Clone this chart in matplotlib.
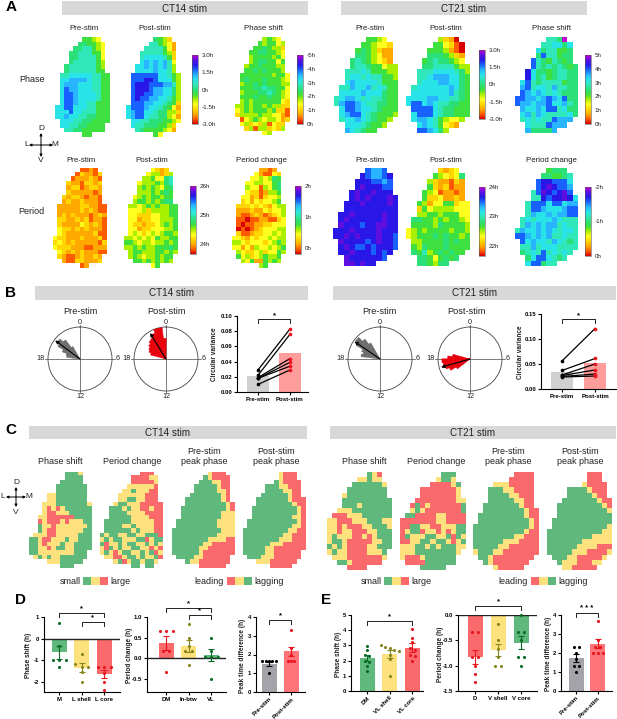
import numpy as np
import matplotlib
matplotlib.use('Agg')
import matplotlib.pyplot as plt
from matplotlib.colors import LinearSegmentedColormap, Normalize, ListedColormap
from matplotlib.colorbar import ColorbarBase
from matplotlib.patches import Rectangle

plt.rcParams['font.family'] = ['Liberation Sans', 'DejaVu Sans']

W, H = 617, 719

# Heat map levels, one hex digit per cell: 0 red ... e magenta, '.' outside the slice
ct14_phase_pre = ["......6654..", ".....776654.", "....7788654.", "...77888664.", "...77888864.", "...78888865.",
                  "..788888865.", "..788888866.", ".88999998866", ".99aaaa98866", ".9aaa9998866", ".9baa9998866",
                  ".9bba9999866", ".9bba9999866", ".9bba9988666", "99bb99988666", "999b99888666", "99a998877666",
                  ".99988776666", ".9988776666.", "..887766666.", "......66...."]
ct14_phase_post = ["......7653..", ".....886542.", "....8888642.", "...88888653.", "...89999863.", "...9a9a9a84.",
                   "..99a9a9a85.", "..9999a9985.", ".bbbbbb99865", ".bbbccb99965", ".bcccbbbaa85", ".bcccbaa9975",
                   ".bccbbaa9975", ".bcbbaa99865", ".bbbaa998763", "9bbba9987642", "9abb99877553", "9abb98877542",
                   ".99887776654", ".9887776653.", "..876666542.", "......64...."]
ct14_phase_shift = ["......5654..", ".....656645.", "....6676553.", "...66776654.", "...56666564.", "...56776646.",
                    "..566766655.", "..667676665.", ".66666665664", ".67666766654", ".56676766655", ".66677877664",
                    ".56667787654", ".66676676654", ".56566666643", "556566565533", "456566656331", "355556554421",
                    ".14565455423", ".4534351433.", "..351553435.", "......45...."]
ct14_period_pre = ["......1121..", ".....132213.", "....1222321.", "...32213323.", "...23312332.", "...32222212.",
                   "..323321221.", "..232232221.", ".22222332211", ".22222323211", ".23232221232", ".33223231221",
                   ".32222432321", ".43323232221", ".43222222311", "433222322231", "343232222213", "433322211222",
                   ".43232322211", ".3211232232.", "..211332223.", "......12...."]
ct14_period_post = ["......4323..", ".....455235.", "....5564478.", "...45556578.", "...56565467.", "...55565676.",
                    "..456566566.", "..566565677.", ".55456565566", ".44453555566", ".44333445566", ".44233445556",
                    ".43323345656", ".44233444556", ".45434545665", "554545465566", "665455455656", "556565566676",
                    ".56655566565", ".5654556566.", "..665656565.", "......46...."]
ct14_period_change = ["......2212..", ".....421143.", "....4454576.", "...44554467.", "...54415467.", "...43312556.",
                      "..442313445.", "..342434456.", ".33343432455", ".22232243445", ".21123212345", ".11011221134",
                      ".10112233444", ".01012344455", ".31123344545", "443243445455", "554344434565", "442425445456",
                      ".54334534465", ".6453456556.", "..546226565.", "......56...."]

ct21_phase_pre = ["......6654..", ".....665443.", "....6765322.", "....7765422.", "...78765432.", "...788766455",
                  "..8889866655", "..8998988665", "..9a99998666", ".88a99a89866", ".9999a999766", "89aa98988766",
                  "8abba9887766", ".9bba9987666", ".9abb9876665", ".899a987665.", "..99987665..", "..a98766...."]
ct21_phase_post = ["......5320..", ".....664310.", "....6665210.", "....7776532.", "...67877654.", "...778888655",
                   "..8889999875", "..889aaa9976", "..8999aa9976", ".8999999a976", ".9999999a876", "9999aa998876",
                   "9bb9a9887766", ".bbbb9877666", ".9bbb9877666", ".9aa9865445.", "..9a986432..", "..bba975...."]
ct21_phase_shift = ["......887e..", ".....889979.", "....9788667.", "....7b88677.", "...b8768767.", "...b87878767",
                    "..c977678877", "..c978678877", ".9b878888677", ".ab8998a8877", ".ba9a9898777", "bbaa9aba9b77",
                    "baa9aab99a87", ".a99a9bb8977", ".9a8a9888897", ".898988baaa.", "..9888baaa..", "..a7777a...."]
ct21_period_pre = ["......baab..", ".....cbaabc.", "....cccbbab.", "....cdcccbb.", "...cdccdccc.", "...cdcdcccdc",
                   "..cccdccccdc", "..cccccccccc", ".ccdcccccdcc", ".cdccccccdcc", ".dcccbccddcc", "cccdccccdccc",
                   "ccdcdcccdccb", ".dccccbcdccb", ".cdcbbcbcccb", ".ccdcccbcbc.", "..dccccccb..", "..ddcdcc...."]
ct21_period_post = ["......3234..", ".....654347.", "....5322132.", "....6323122.", "...65412212.", "...63342232.",
                    "..6524466344", "..3645555444", "..5566566644", ".77665656654", ".66665766665", "456566665665",
                    "456667676656", ".55666676766", ".65766676666", ".7685676766.", "..77646767..", "..776577...."]
ct21_period_change = ["......6777..", ".....776678.", "....bccbbb9.", "....bcdcbba.", "...8bdcbcdb.", "...88cbccdc9",
                      "..8bbb9bb9aa", "..8bba999abb", "..8a99a9aabb", ".898999a9888", ".8a9a9aa8988", "8a99a9a98998",
                      "bba9a9a88988", ".b9a998a9878", ".88a89998888", ".7898b89898.", "..79bb9878..", "..9bb788...."]

# Cluster maps: G small/lagging, Y middle, R large/leading
c14_shift = ["........GGGY..", "........GGGG..", ".......GGGGG..", "......GGGGGGG.", "......GGGGGGG.", "....YYGGGGGGG.",
             "....YYGGGGGGG.", "...YYYGGGGGGGY", "...YRYRYGGGGGG", "...YRRYYYGGGGG", "..YYRRRRRRGGGG", "..RYRRRYRYYYGG",
             "..GYYRYYYYYYYG", "..GYRRYYYYYYGG", ".YYYRRYYYYYGGG", "GGYRRYYYGYYGGG", "GGYRYYYGYYGGGG", "GGYYRYGGYYGGGG",
             "GGYYYYYYYYGGG.", ".YGYGYYGGGGGG.", "....YYYGGGGG..", ".......GGG...."]
c14_period = [".........RRR..", ".......RRRRYY.", ".......RRRRRY.", "......YYYYYYR.", ".....YYGYYYRR.", "....YYYYYYRRR.",
              "....YYGGYYRRR.", "...YGGYYYRRRRR", "..GGGYGYYRRYRR", "..GGGGYYYYRRRR", "..GGGGGYYYYRRR", ".GGGGGGYYYYYRR",
              ".GGGGYYGYYYYRR", ".GGGGGGYGYYYRR", "GYGGYYGGYYGGGR", "YGYGGYYYGGRYGG", "GRYYGYGGYYGYGY", "YRGYGYYGGYYRYR",
              "YGYRYGGYYGYGRY", ".YYRRYGGYGYYGR", "...YGRYGGYGGY.", ".......GG.GG.."]
c14_pre_peak = ["........YRRR..", ".......GYRRRR.", "......GGGYYRR.", ".....GGGGGYRR.", ".....GGGGGYYR.", "....GGGGGGGYR.",
                "...GGGGGGGGYR.", "...GGGGGGGGGYR", "..GGGGGGGGGGYR", "..GGGGGGGGGYYY", "..GGGGGGGGGYYY", ".GGGGGGGGGYYYY",
                ".GGGGGGGGGYYYY", "GGGGGGGGGGGYYY", "GGGGGGGGGGYYYY", "GGGGGGGGYYYYRR", "GGGGGGGYYRRRRR", "GGGGGGYYRRRRRR",
                "GGGGGGYRRRRRRR", ".GGGGYYRRRRRR.", "...GYYRRRRRRR.", "......RRRRRR.."]
c14_post_peak = ["........YRRR..", "........YRRR..", ".......GYRRRR.", ".....GGGYYRRR.", ".....GGGGYYRR.", "....GGGGGGYRR.",
                 "...GGGGGGGYRRR", "...GGGGGGGGYRR", "..GGGGGGGGGGYR", "..GGGGGGGGGGYR", "..GGGGGGGGGYYR", ".GGGGGGGGGGGYR",
                 ".GGGGGGGGGGYYR", "GGGGGGGGGGYYRR", "GGGGGGGGGYYRRR", "GGGGGGGGYYYRRR", "GGGGGGYYYRRRRR", "GGGGGYYRRRRRRR",
                 "GGGGGYYRRRRRR.", ".GGGYYYRRRRRR.", "...YYYRRRRRR..", "......RRRRR..."]
c21_shift = ["........GYR..", "......YYGYY..", ".....GGGGGGY.", "....GGGGGGGG.", "...YGGGGGGGG.", "...GGGGGGGGGG",
             "...GGGYGGGGGG", "..YYYGGGGGGGG", ".RRRYYYGGGGGG", "YYRRRYYYGGGYY", "YYRYRRRYYGGGY", "YYRYYRRRYYGGG",
             "YGYYYRRYRYGGG", "YGGYRRRRRYYGG", "GYGYRRRRYYGGG", "YGYYRRRRYYYG.", ".YYYRRRRRRRY.", "..GGYRRRRRR..",
             "....RRRR....."]
c21_period = ["........GGG..", ".......YGGY..", "......RRRRYG.", "....RRRRRRRY.", "....RRRRRRRY.", "...RRRRRRRRYY",
              "..RGRYRRRRRRG", "..YGYRRRRRRRG", ".GGRRRRYYRRRR", "RRRRRRRYYRRRR", "RRGGYYRRYYYGG", "RYGGRYYRYRYGG",
              "RGYYYGGYYGRGY", "RRYYGGYGGYRYG", "YYYGGYGYGGGYY", "YYYGGGGGGGGY.", "YRRRYGGGGGG..", ".RRRRGGGGGG..",
              "....GGGGG...."]
c21_pre_peak = ["........RRRR.", ".......RRRRR.", "....YYYRRRRR.", "...GGGYYRRRR.", "...GGGGYYRRR.", "...GGGGGYYRR.",
                "..GGGGGGGYRR.", "..GGGGGGGGYRR", ".GGGGGGGGGYRR", ".GGGGGGGGGGYR", "GGGGGGGGGGGYR", "GGGGGGGGGGYRR",
                "GGGGGGGGYYRRR", "GGGGGGYYYRRRR", "GGGGGYYRRRRRR", "YGGGYYRRRRRRR", ".GGYRRRRRRRR.", "..GYRRRRRRR..",
                "....YRRRRR..."]
c21_post_peak = ["........RRR..", "........RRR..", ".......YRRRR.", "....GGGGYRRR.", "....GGGGGYRR.", "...GGGGGGGYRR",
                 "..GGGGGGGGGYR", "..GGGGGGGGGGY", "..GGGGGGGGGGG", ".GGGGGGGGGGGG", ".GGGGGGGGGGGY", "GGGGGGGGGGGYY",
                 "GGGGGGGGGYYYY", "GGGGGGGYYYYYY", "GGGGGGYYYYRRR", "GGGGGYYYRRRRY", ".GGGYYRRRRRY.", "..GYYYRRRYY..",
                 "...YYRRRRR..."]

# Rose plots: bin centres in circadian hours, bin lengths, mean vector
rose_hours_pre = [18.75, 19.25, 19.75, 20.25, 20.75, 21.25, 21.75]
rose14_pre = [0.42, 0.45, 0.60, 0.80, 0.88, 0.75, 0.45]
rose21_pre = [0.60, 0.55, 0.62, 0.85, 0.95, 0.78, 0.58]
rose14_post_hours = [19.25, 19.75, 20.25, 20.75, 21.25, 21.75, 22.25, 22.75, 23.25, 23.75]
rose14_post = [0.50, 0.58, 0.62, 0.68, 0.75, 0.78, 0.88, 1.0, 1.0, 0.65]
rose21_post_hours = [15.75, 16.25, 16.75, 17.25, 17.75, 18.25, 18.75]
rose21_post = [0.50, 0.70, 0.80, 0.85, 0.88, 0.70, 0.55]
vec14 = [(20.45, 0.97), (21.9, 0.95)]
vec21 = [(20.3, 0.97), (16.93, 0.94)]

# Circular variance
var_labels = ['Pre-stim', 'Post-stim']
var14_pre = [0.029, 0.022, 0.019, 0.018, 0.018, 0.010]
var14_post = [0.083, 0.076, 0.044, 0.039, 0.034, 0.029]
var14_mean = [0.021, 0.051]
var21_pre = [0.056, 0.037, 0.028, 0.027, 0.025, 0.024]
var21_post = [0.121, 0.061, 0.050, 0.038, 0.030, 0.026]
var21_mean = [0.033, 0.052]

# Bar panels D and E
d1_names = ['M', 'L shell', 'L core']
d1_means = [-0.63, -1.33, -1.63]
d1_sems = [0.29, 0.20, 0.17]
d1_points = [[0.72, -0.35, -0.97, -0.97, -0.97, -1.32], [-0.7, -1.15, -1.3, -1.3, -1.55, -2.0], [-1.3, -1.3, -1.3, -1.6, -2.0, -2.35]]
d2_names = ['DM', 'In-btw', 'VL']
d2_means = [0.36, 0.30, 0.08]
d2_sems = [0.17, 0.14, 0.14]
d2_points = [[0.67, 0.67, 0.67, 0.18, 0.18, -0.33], [0.83, 0.49, 0.29, 0.17, 0.17, -0.17], [0.49, 0.17, 0.03, 0.03, 0.03, -0.5]]
d3_names = ['Pre-stim', 'Post-stim']
d3_means = [1.5, 2.17]
d3_sems = [0.12, 0.25]
d3_points = [[1.67, 1.67, 1.67, 1.67, 1.67, 1.0], [3.33, 2.33, 2.0, 1.67, 1.67, 1.67]]
e1_names = ['DM', 'VL shell', 'VL core']
e1_means = [2.2, 2.45, 2.85]
e1_sems = [0.2, 0.28, 0.28]
e1_points = [[2.95, 2.7, 2.4, 2.3, 2.0, 1.9, 1.65, 1.3], [3.05, 2.9, 2.85, 2.7, 2.65, 2.35, 2.1, 1.0], [4.05, 3.5, 3.2, 2.8, 2.7, 2.4, 2.3, 2.0]]
e2_names = ['D', 'V shell', 'V core']
e2_means = [-0.83, -0.69, -0.55]
e2_sems = [0.14, 0.11, 0.13]
e2_points = [[-0.33, -0.33, -0.83, -0.83, -1.0, -1.17, -1.33], [-0.17, -0.5, -0.67, -0.83, -1.0, -1.0], [0.0, -0.33, -0.33, -0.5, -0.83, -0.83, -1.0]]
e3_names = ['Pre-stim', 'Post-stim']
e3_means = [1.75, 2.5]
e3_sems = [0.22, 0.22]
e3_points = [[2.33, 2.33, 2.0, 1.67, 1.33, 1.33, 1.0], [3.67, 2.67, 2.33, 2.33, 2.0, 2.0, 2.0]]

RED, YEL, GRN = '#fa6a6c', '#fde17c', '#5fb97c'
D_RED, D_YEL, D_GRN = '#e8141e', '#86861c', '#0a6a26'
GREY_BAR = '#d8d8d8'

rainbow = LinearSegmentedColormap.from_list('rainbow14', [
    '#d80000', '#ff5c00', '#ffaa00', '#ffd800', '#ffff20', '#a8f000', '#3ce040', '#2ce078',
    '#30e8b8', '#28e4e8', '#28b4ff', '#1864ff', '#2818e8', '#5c10e0', '#c000d8'])
cluster_cmap = ListedColormap([GRN, YEL, RED])

fig = plt.figure(figsize=(W / 100, H / 100), dpi=100)
bg = fig.add_axes([0, 0, 1, 1])
bg.set_xlim(0, W)
bg.set_ylim(H, 0)
bg.axis('off')


def px_axes(x0, y0, x1, y1, **kw):
    return fig.add_axes([x0 / W, 1 - y1 / H, (x1 - x0) / W, (y1 - y0) / H], **kw)


def label(x, y, s, size=6.0, **kw):
    kw.setdefault('ha', 'center')
    bg.text(x, y, s, fontsize=size, va='center', color=kw.pop('color', '#222222'), **kw)


def heat(rows, x0, y0, x1, y1):
    ax = px_axes(x0, y0, x1, y1)
    vals = [[np.nan if c == '.' else int(c, 16) for c in r] for r in rows]
    ax.imshow(np.ma.masked_invalid(vals), cmap=rainbow, vmin=0, vmax=14, aspect='auto', interpolation='nearest')
    ax.axis('off')


def cluster(rows, x0, y0, x1, y1):
    ax = px_axes(x0, y0, x1, y1)
    vals = [[np.nan if c == '.' else 'GYR'.index(c) for c in r] for r in rows]
    ax.imshow(np.ma.masked_invalid(vals), cmap=cluster_cmap, vmin=0, vmax=2, aspect='auto', interpolation='nearest')
    ax.axis('off')


def cbar(x0, y0, x1, y1, vmin, vmax, ticks, names):
    ax = px_axes(x0, y0, x1, y1)
    cb = ColorbarBase(ax, cmap=rainbow, norm=Normalize(vmin, vmax))
    cb.set_ticks(ticks)
    cb.set_ticklabels(names)
    cb.outline.set_linewidth(0.4)
    cb.outline.set_edgecolor('#555555')
    ax.tick_params(labelsize=4.5, length=0, pad=2.5, colors='#222222')


def compass(cx, cy, arm=12, gap=16):
    for dx, dy in [(arm, 0), (-arm, 0), (0, arm), (0, -arm)]:
        bg.annotate('', xy=(cx + dx, cy + dy), xytext=(cx, cy),
                    arrowprops=dict(arrowstyle='-|>', lw=0.7, color='black', mutation_scale=3.5, shrinkA=0, shrinkB=0))
    label(cx, cy - gap, 'D')
    label(cx, cy + gap, 'V')
    label(cx - gap + 2, cy, 'L')
    label(cx + gap - 2, cy, 'M')


def header(x0, x1, y0, y1, s):
    bg.add_patch(Rectangle((x0, y0), x1 - x0, y1 - y0, color=GREY_BAR, lw=0))
    label((x0 + x1) / 2, (y0 + y1) / 2 + 0.5, s, size=7.1)


def rose(cx, cy, hours, lengths, vec, color):
    r = 32
    # cross hair sticks out a little past the circle
    bg.plot([cx - r - 3, cx + r + 3], [cy, cy], color='#666666', lw=0.6)
    bg.plot([cx, cx], [cy - r - 2, cy + r + 2], color='#666666', lw=0.6)
    ax = px_axes(cx - r, cy - r, cx + r, cy + r, projection='polar')
    ax.set_theta_zero_location('N')
    ax.set_theta_direction(-1)
    theta = np.radians(np.array(hours) * 15)
    # slight overlap and a thin edge so the bins read as one solid fan
    ax.bar(theta, lengths, width=np.radians(8.5), color=color, edgecolor=color, lw=0.3, zorder=3)
    vt = np.radians(vec[0] * 15)
    ax.annotate('', xy=(vt, vec[1]), xytext=(0, 0), zorder=5,
                arrowprops=dict(arrowstyle='-|>', lw=0.8, color='black', mutation_scale=5, shrinkA=0, shrinkB=0))
    ax.set_rlim(0, 1)
    ax.set_yticks([])
    ax.set_xticks([])
    ax.grid(False)
    ax.spines['polar'].set_linewidth(0.6)
    ax.spines['polar'].set_color('#444444')
    ax.set_facecolor('none')
    label(cx, cy - 37, '0', size=5.2)
    label(cx, cy + 38, '12', size=5.2)
    label(cx - 39, cy, '18', size=5.2)
    label(cx + 38, cy, '6', size=5.2)


def style_axis(ax, size=4.3):
    ax.spines['top'].set_visible(False)
    ax.spines['right'].set_visible(False)
    for s in ('left', 'bottom'):
        ax.spines[s].set_linewidth(0.8)
    ax.tick_params(length=2, width=0.8, pad=1.5, labelsize=size)
    for t in ax.get_xticklabels() + ax.get_yticklabels():
        t.set_fontweight('bold')
    ax.patch.set_alpha(0)


def bracket(ax, a, b, ypx, star, box, drop=4, star_off=5):
    tr = ax.get_xaxis_transform()
    y = lambda p: (box[3] - p) / (box[3] - box[1])
    ax.plot([a, a, b, b], [y(ypx + drop), y(ypx), y(ypx), y(ypx + drop)], color='#222222', lw=0.7, transform=tr, clip_on=False)
    ax.text((a + b) / 2, y(ypx - star_off + 1), star, transform=tr, ha='center', va='center', fontsize=5.5, fontweight='bold')


def spread(vals, px_per_unit, step, tol=3.5):
    # side by side placement for dots that would overlap
    order = np.argsort(vals)[::-1]
    xs = np.zeros(len(vals))
    grp = []
    for i in list(order) + [None]:
        if i is not None and (not grp or abs(vals[grp[-1]] - vals[i]) * px_per_unit < tol):
            grp.append(i)
            continue
        for k, j in enumerate(grp):
            xs[j] = (k - (len(grp) - 1) / 2) * step
        grp = [i]
    return xs


def bar_panel(box, first, gap, bar_px, names, means, sems, points, ylim, yticks, ylab, ylab_x, cols, dots,
              rotate=False, top_axis=False, ticklabels=None, step=6.5):
    x0, y0, x1, y1 = box
    ax = px_axes(x0, y0, x1, y1)
    ax.set_xlim((x0 - first) / gap, (x1 - first) / gap)
    ax.set_ylim(*ylim)
    ppu = (y1 - y0) / (ylim[1] - ylim[0])
    xpos = np.arange(len(names))
    ax.bar(xpos, means, width=bar_px / gap, color=cols, lw=0, zorder=1)
    for i, vals in enumerate(points):
        ax.errorbar(i, means[i], yerr=sems[i], color=dots[i], elinewidth=0.8, capsize=2.2, capthick=0.8, zorder=3)
        ax.scatter(i + spread(vals, ppu, step / gap), vals, s=5, color=dots[i], lw=0, zorder=4, clip_on=False)
    ax.set_xticks(xpos, names)
    ax.set_yticks(yticks, ticklabels if ticklabels else [f'{v:g}' for v in yticks])
    if top_axis or ylim[0] < 0 < ylim[1] or ylim[1] == 0:
        ax.axhline(0, color='#222222', lw=1, zorder=2)
    style_axis(ax)
    if rotate:
        ax.tick_params(axis='x', pad=1)
        for t in ax.get_xticklabels():
            t.set_rotation(45)
            t.set_ha('right')
            t.set_rotation_mode('anchor')
    bg.text(ylab_x, (y0 + y1) / 2 + 1, ylab, rotation=90, fontsize=4.7, fontweight='bold', ha='center', va='center', color='#222222')
    return ax


def variance_panel(box, first, gap, pre, post, means, ylim, yticks):
    x0, y0, x1, y1 = box
    ax = px_axes(x0, y0, x1, y1)
    ax.set_xlim((x0 - first) / gap, (x1 - first) / gap)
    ax.set_ylim(*ylim)
    ax.bar([0, 1], means, width=22 / gap, color=['#d0d0d0', '#ff9c9c'], lw=0)
    for a, b in zip(pre, post):
        ax.plot([0, 1], [a, b], color='black', lw=0.9, zorder=3)
    ax.scatter([0] * len(pre), pre, s=7, color='black', lw=0, zorder=4)
    ax.scatter([1] * len(post), post, s=7, color=D_RED, lw=0, zorder=4)
    ax.set_xticks([0, 1], var_labels)
    ax.set_yticks(yticks, [f'{v:.2f}' for v in yticks])
    style_axis(ax, size=4.3)
    return ax


# ---- panel A
bg.text(11, 7, 'A', fontsize=11, fontweight='bold', ha='center', va='center')
header(62, 308, 1, 15, 'CT14 stim')
header(341, 587, 1, 15, 'CT21 stim')
for x, s in [(84, 'Pre-stim'), (155, 'Post-stim'), (263, 'Phase shift')]:
    label(x, 29, s, size=5.7)
for x, s in [(81, 'Pre-stim'), (152, 'Post-stim'), (261, 'Period change')]:
    label(x, 160, s, size=5.7)
for x, s in [(370, 'Pre-stim'), (446, 'Post-stim'), (551, 'Phase shift')]:
    label(x, 28, s, size=5.7)
for x, s in [(370, 'Pre-stim'), (446, 'Post-stim'), (551, 'Period change')]:
    label(x, 160, s, size=5.7)
label(32, 79, 'Phase', size=6.5)
label(31, 211, 'Period', size=6.5)
compass(41, 145)

heat(ct14_phase_pre, 55, 37, 110, 137)
heat(ct14_phase_post, 126, 37, 180, 137)
heat(ct14_phase_shift, 235, 37, 290, 135)
heat(ct14_period_pre, 53, 168, 107, 268)
heat(ct14_period_post, 124, 168, 178, 268)
heat(ct14_period_change, 232, 168, 286, 268)
heat(ct21_phase_pre, 334, 37, 398, 133)
heat(ct21_phase_post, 406, 37, 470, 133)
heat(ct21_phase_shift, 515, 37, 578, 133)
heat(ct21_period_pre, 333, 168, 398, 266)
heat(ct21_period_post, 406, 168, 469, 266)
heat(ct21_period_change, 515, 168, 578, 266)

cbar(192, 55, 198, 124, -3, 3, [3, 1.5, 0, -1.5, -3], ['3.0h', '1.5h', '0h', '-1.5h', '-3.0h'])
cbar(297, 55, 303, 124, 0, 5, [5, 4, 3, 2, 1, 0], ['-5h', '-4h', '-3h', '-2h', '-1h', '0h'])
cbar(190, 186, 196, 254, 23.65, 26, [26, 25, 24], ['26h', '25h', '24h'])
cbar(295, 186, 301, 254, -0.2, 2, [2, 1, 0], ['2h', '1h', '0h'])
cbar(479, 50, 485, 119, -3, 3, [3, 1.5, 0, -1.5, -3], ['3.0h', '1.5h', '0h', '-1.5h', '-3.0h'])
cbar(585, 55, 591, 124, 0, 5, [5, 4, 3, 2, 1, 0], ['5h', '4h', '3h', '2h', '1h', '0h'])
cbar(479, 187, 485, 256, 21.66, 24, [24, 23, 22], ['24h', '23h', '22h'])
cbar(585, 187, 591, 256, 0, 2, [2, 1, 0], ['-2h', '-1h', '0h'])

# ---- panel B
bg.text(11, 293, 'B', fontsize=11, fontweight='bold', ha='center', va='center')
header(35, 308, 286, 300, 'CT14 stim')
header(333, 616, 286, 300, 'CT21 stim')
for x, s in [(80, 'Pre-stim'), (166, 'Post-stim'), (379, 'Pre-stim'), (466, 'Post-stim')]:
    label(x, 311, s, size=6.6)
rose(80, 359, rose_hours_pre, rose14_pre, vec14[0], '#6e6e6e')
rose(166, 359, rose14_post_hours, rose14_post, vec14[1], '#e8000c')
rose(380, 359, rose_hours_pre, rose21_pre, vec21[0], '#6e6e6e')
rose(470, 359, rose21_post_hours, rose21_post, vec21[1], '#e8000c')

box = (237, 316, 308, 392)
ax = variance_panel(box, 258, 32, var14_pre, var14_post, var14_mean, (0, 0.10), [0, 0.02, 0.04, 0.06, 0.08, 0.10])
bracket(ax, 0, 1, 319, '*', box, drop=4, star_off=4)
bg.text(215, 354, 'Circular variance', rotation=90, fontsize=4.7, fontweight='bold', ha='center', va='center', color='#222222')
box = (541, 314, 617, 389)
ax = variance_panel(box, 562, 33, var21_pre, var21_post, var21_mean, (0, 0.15), [0, 0.05, 0.10, 0.15])
bracket(ax, 0, 1, 319, '*', box, drop=4, star_off=4)
bg.text(520, 352, 'Circular variance', rotation=90, fontsize=4.7, fontweight='bold', ha='center', va='center', color='#222222')

# ---- panel C
bg.text(11, 430, 'C', fontsize=11, fontweight='bold', ha='center', va='center')
header(29, 307, 426, 439, 'CT14 stim')
header(330, 616, 426, 439, 'CT21 stim')
for xs in ([60, 132, 204, 276], [364, 436, 508, 580]):
    label(xs[0], 462, 'Phase shift', size=6.5)
    label(xs[1], 462, 'Period change', size=6.5)
    label(xs[2], 451, 'Pre-stim', size=6.5)
    label(xs[2], 462, 'peak phase', size=6.5)
    label(xs[3], 451, 'Post-stim', size=6.5)
    label(xs[3], 462, 'peak phase', size=6.5)
compass(16, 497, arm=10, gap=15)

cluster(c14_shift, 29, 472, 92, 568)
cluster(c14_period, 100, 472, 163, 568)
cluster(c14_pre_peak, 172, 472, 235, 568)
cluster(c14_post_peak, 243, 472, 306, 568)
cluster(c21_shift, 327, 472, 392, 570)
cluster(c21_period, 400, 472, 466, 570)
cluster(c21_pre_peak, 473, 472, 539, 570)
cluster(c21_post_peak, 547, 472, 612, 570)


def swatches(x0, cols):
    for i, c in enumerate(cols):
        bg.add_patch(Rectangle((x0 + i * 8.4, 577), 8.4, 8, color=c, lw=0))


for x0, left, right, cols, xl in [(83, 'small', 'large', [GRN, YEL, RED], 81), (227, 'leading', 'lagging', [RED, YEL, GRN], 224),
                                  (384, 'small', 'large', [GRN, YEL, RED], 382), (531, 'leading', 'lagging', [RED, YEL, GRN], 528)]:
    swatches(x0, cols)
    label(xl, 581, left, size=6.5, ha='right')
    label(x0 + 27, 581.5, right, size=6.5, ha='left')

# ---- panels D and E
bg.text(21, 600, 'D', fontsize=11, fontweight='bold', ha='center', va='center')
bg.text(326, 600, 'E', fontsize=11, fontweight='bold', ha='center', va='center')

box = (44, 617, 120, 692)
ax = bar_panel(box, 59, 22.6, 15, d1_names, d1_means, d1_sems, d1_points, (-2.46, 1), [1, 0, -1, -2], 'Phase shift (h)', 29,
               [GRN, YEL, RED], [D_GRN, D_YEL, D_RED])
bracket(ax, 0, 2, 613, '*', box)
bracket(ax, 1, 2, 622, '*', box)

box = (147, 617, 226, 692)
ax = bar_panel(box, 166, 22.6, 15, d2_names, d2_means, d2_sems, d2_points, (-0.82, 1), [1, 0.5, 0, -0.5], 'Period change (h)', 129.5,
               [RED, YEL, GRN], [D_RED, D_YEL, D_GRN], ticklabels=['1.0', '0.5', '0.0', '-0.5'])
bracket(ax, 0, 2, 608, '*', box)
bracket(ax, 1, 2, 615, '*', box)

box = (256, 617, 305, 692)
ax = bar_panel(box, 269, 22, 15, d3_names, d3_means, d3_sems, d3_points, (0, 4), [4, 3, 2, 1, 0], 'Peak time difference (h)', 242,
               ['#a3a3a9', '#ff7478'], ['black', D_RED], rotate=True, step=3.4)
bracket(ax, 0, 1, 620, '*', box)

box = (351, 615, 423, 691)
ax = bar_panel(box, 367, 22.7, 15, e1_names, e1_means, e1_sems, e1_points, (0, 5), [5, 4, 3, 2, 1, 0], 'Phase shift (h)', 339,
               [GRN, YEL, RED], [D_GRN, D_YEL, D_RED], rotate=True, step=4.5)
bracket(ax, 0, 2, 621, '*', box)

box = (458, 615, 537, 691)
ax = bar_panel(box, 475, 23, 15, e2_names, e2_means, e2_sems, e2_points, (-1.5, 0), [0, -0.5, -1, -1.5], 'Period change (h)', 440,
               [RED, YEL, GRN], [D_RED, D_YEL, D_GRN], top_axis=True, ticklabels=['0.0', '-0.5', '-1.0', '-1.5'])
bracket(ax, 0, 2, 606, '*', box)

box = (561, 615, 612, 691)
ax = bar_panel(box, 576, 21.5, 15, e3_names, e3_means, e3_sems, e3_points, (0, 4), [4, 3, 2, 1, 0], 'Peak time difference (h)', 548,
               ['#a3a3a9', '#ff7478'], ['black', D_RED], rotate=True, step=5)
bracket(ax, 0, 1, 613, '* * *', box)

fig.savefig('out.png', dpi=100)
